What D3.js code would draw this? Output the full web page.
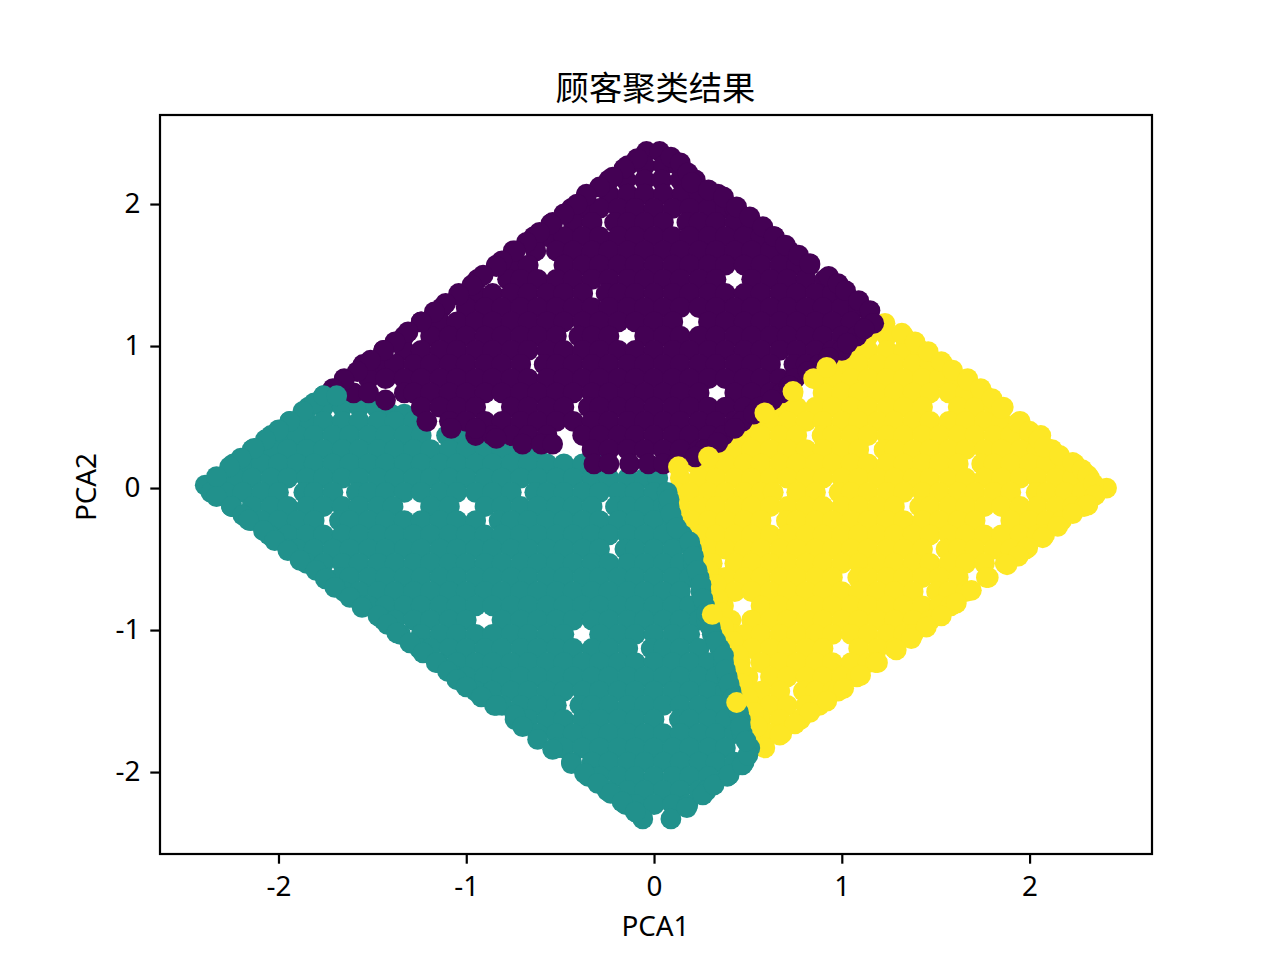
<!DOCTYPE html>
<html><head><meta charset="utf-8">
<script src="https://cdn.jsdelivr.net/npm/d3@7/dist/d3.min.js"></script>
<style>html,body{margin:0;padding:0;background:#fff}svg{display:block}text{font-family:"Noto Sans","Noto Sans CJK SC",sans-serif;fill:#000}</style>
</head><body><svg id="c" width="1280" height="960"></svg>
<script>
const titleText="顾客聚类结果", xLabel="PCA1", yLabel="PCA2";
const xTicks=[-2,-1,0,1,2], yTicks=[-2,-1,0,1,2];
// each row: first the PCA2 value, then PCA1 values of the points read at that height
const yellowRows=[
[1.16,1.23],
[1.07,1.14,1.24,1.33],
[0.97,1.05,1.14,1.24,1.33,1.42],
[0.87,0.94,1.00,1.09,1.19,1.28,1.38,1.47,1.54],
[0.77,0.86,0.95,1.05,1.14,1.24,1.33,1.43,1.52,1.60,1.67],
[0.67,0.74,0.90,1.00,1.09,1.19,1.28,1.38,1.47,1.57,1.66,1.75],
[0.57,0.62,0.67,0.76,0.86,0.95,1.05,1.14,1.24,1.33,1.43,1.62,1.71,1.81,1.86],
[0.47,0.52,0.62,0.71,0.81,0.90,1.00,1.09,1.19,1.28,1.38,1.47,1.57,1.66,1.76,1.85,1.95],
[0.37,0.43,0.48,0.57,0.67,0.76,0.895,0.95,1.05,1.14,1.24,1.33,1.43,1.52,1.62,1.71,1.81,1.90,2.00,2.06],
[0.27,0.33,0.43,0.52,0.62,0.71,0.81,0.90,1.00,1.09,1.225,1.28,1.38,1.47,1.57,1.66,1.76,1.85,1.95,2.04,2.12],
[0.17,0.22,0.29,0.38,0.48,0.57,0.67,0.76,0.86,0.95,1.05,1.14,1.24,1.33,1.43,1.52,1.62,1.745,1.81,1.90,2.00,2.09,2.19,2.24],
[0.07,0.14,0.24,0.33,0.43,0.52,0.62,0.71,0.81,0.90,1.00,1.09,1.19,1.28,1.38,1.47,1.57,1.66,1.76,1.85,1.95,2.04,2.14,2.23,2.32],
[-0.03,0.12,0.19,0.29,0.38,0.48,0.57,0.635,0.76,0.86,0.985,1.05,1.14,1.24,1.33,1.43,1.52,1.62,1.71,1.81,1.90,2.035,2.09,2.19,2.28],
[0.00,2.41],
[-0.13,0.14,0.24,0.33,0.43,0.52,0.62,0.71,0.81,0.90,1.00,1.09,1.19,1.28,1.415,1.47,1.57,1.66,1.76,1.85,1.95,2.04,2.14,2.23,2.29],
[-0.23,0.20,0.29,0.38,0.48,0.57,0.705,0.76,0.86,0.95,1.05,1.14,1.24,1.33,1.43,1.52,1.62,1.71,1.90,2.00,2.09,2.17],
[-0.33,0.24,0.33,0.43,0.52,0.62,0.71,0.81,0.90,1.00,1.09,1.19,1.28,1.38,1.47,1.57,1.66,1.76,1.85,1.95,2.04,2.08],
[-0.43,0.29,0.38,0.48,0.57,0.67,0.76,0.86,0.95,1.05,1.14,1.24,1.33,1.43,1.555,1.62,1.71,1.81,1.90,1.98],
[-0.53,0.31,0.43,0.52,0.62,0.71,0.81,0.90,1.00,1.09,1.19,1.28,1.38,1.47,1.57,1.66,1.76,1.87],
[-0.63,0.32,0.38,0.48,0.57,0.67,0.76,0.86,0.95,1.085,1.14,1.24,1.33,1.43,1.52,1.62,1.78],
[-0.73,0.35,0.43,0.52,0.62,0.71,0.81,0.90,1.00,1.09,1.19,1.28,1.38,1.505,1.57,1.66],
[-0.83,0.37,0.57,0.67,0.76,0.86,0.95,1.05,1.14,1.24,1.33,1.43,1.52,1.58],
[-0.93,0.41,0.52,0.62,0.71,0.81,0.90,1.00,1.09,1.19,1.28,1.38,1.47],
[-1.03,0.42,0.48,0.57,0.67,0.76,0.86,0.95,1.05,1.14,1.24,1.33,1.38],
[-1.13,0.45,0.52,0.62,0.71,0.81,0.90,1.09,1.19,1.28],
[-1.23,0.46,0.57,0.67,0.76,0.86,0.95,1.05,1.14,1.18],
[-1.33,0.50,0.62,0.71,0.81,0.90,1.00,1.08],
[-1.43,0.50,0.57,0.67,0.795,0.86,0.95,0.98],
[-1.53,0.52,0.62,0.71,0.81,0.88],
[-1.63,0.52,0.57,0.67,0.78],
[-1.73,0.54,0.62,0.68],
[-1.83,0.59]
];
const yellowEdgeRows=[
[1.09,1.32],[1.03,1.39],[0.96,1.46],[0.89,1.53],[0.83,1.59],[0.76,1.67],[0.70,1.74],[0.63,1.80],[0.56,1.85],[0.46,1.94],[0.40,2.00],[0.34,2.05],[0.29,2.08],[0.23,2.16],[0.18,2.23],[0.13,2.28],[0.09,2.31],[0.03,2.34],
[-0.05,2.35],[-0.12,2.31],[-0.18,2.23],[-0.27,2.15],[-0.35,2.07],[-0.42,1.99],[-0.48,1.94],[-0.54,1.88],[-0.63,1.77],[-0.72,1.69],[-0.81,1.61],[-0.90,1.53],[-0.98,1.45],[-1.06,1.37],[-1.14,1.29],[-1.23,1.19],[-1.32,1.10],[-1.41,1.01],[-1.50,0.92],[-1.58,0.83],[-1.66,0.75],[-1.74,0.67],
[-0.58,0.29],[-0.68,0.33],[-0.78,0.34],[-0.88,0.36],[-0.98,0.37],[-1.08,0.42],[-1.18,0.45],[-1.28,0.46],[-1.38,0.47],[-1.48,0.50],[-1.58,0.53],[-1.68,0.55]
];
const tealRows=[
[0.65,-1.76,-1.69],
[0.57,-1.84,-1.76,-1.66,-1.57,-1.48],
[0.52,-1.40,-1.33],
[0.47,-1.94,-1.85,-1.76,-1.66,-1.57,-1.47,-1.38,-1.28],
[0.37,-2.04,-1.97,-1.90,-1.81,-1.71,-1.62,-1.52,-1.43,-1.33,-1.24,-1.105,-1.05,-0.93],
[0.27,-2.14,-2.04,-1.95,-1.85,-1.76,-1.66,-1.57,-1.47,-1.38,-1.28,-1.19,-1.09,-1.00,-0.90,-0.81,-0.71,-0.62],
[0.17,-2.24,-2.19,-2.09,-2.00,-1.90,-1.81,-1.71,-1.62,-1.52,-1.43,-1.33,-1.24,-1.14,-1.05,-0.95,-0.86,-0.76,-0.67,-0.57,-0.48,-0.38,-0.29],
[0.07,-2.32,-2.23,-2.14,-2.04,-1.95,-1.85,-1.76,-1.66,-1.57,-1.47,-1.38,-1.28,-1.19,-1.09,-1.00,-0.90,-0.81,-0.71,-0.62,-0.52,-0.43,-0.33,-0.24,-0.14,-0.05,0.02],
[0.02,-2.39],
[-0.03,-2.36,-2.28,-2.19,-2.09,-2.00,-1.865,-1.81,-1.71,-1.585,-1.52,-1.43,-1.33,-1.24,-1.14,-1.05,-0.95,-0.86,-0.76,-0.635,-0.57,-0.48,-0.38,-0.29,-0.19,-0.10,0.00,0.07],
[-0.13,-2.25,-2.14,-2.04,-1.95,-1.85,-1.76,-1.66,-1.57,-1.47,-1.39,-1.19,-1.09,-0.90,-0.81,-0.71,-0.62,-0.52,-0.43,-0.33,-0.205,-0.14,-0.05,0.05,0.08],
[-0.23,-2.15,-2.09,-2.00,-1.90,-1.81,-1.675,-1.62,-1.52,-1.43,-1.33,-1.24,-1.14,-1.05,-0.95,-0.825,-0.76,-0.67,-0.57,-0.48,-0.38,-0.29,-0.19,-0.10,0.00,0.10],
[-0.33,-2.05,-1.95,-1.85,-1.76,-1.66,-1.57,-1.47,-1.38,-1.28,-1.19,-1.09,-1.00,-0.90,-0.81,-0.71,-0.62,-0.52,-0.43,-0.33,-0.24,-0.14,-0.05,0.05,0.15],
[-0.43,-1.95,-1.90,-1.81,-1.71,-1.62,-1.52,-1.43,-1.33,-1.24,-1.14,-1.05,-0.95,-0.86,-0.76,-0.67,-0.57,-0.48,-0.38,-0.29,-0.155,-0.10,0.00,0.10,0.20],
[-0.53,-1.85,-1.76,-1.66,-1.57,-1.47,-1.38,-1.28,-1.19,-1.09,-1.00,-0.90,-0.81,-0.71,-0.62,-0.52,-0.43,-0.33,-0.24,-0.14,-0.05,0.05,0.14,0.21],
[-0.63,-1.75,-1.67,-1.62,-1.52,-1.43,-1.33,-1.24,-1.14,-1.05,-0.95,-0.86,-0.76,-0.67,-0.57,-0.48,-0.38,-0.29,-0.19,-0.10,0.00,0.10,0.19,0.24],
[-0.73,-1.65,-1.57,-1.47,-1.38,-1.28,-1.19,-1.09,-1.00,-0.90,-0.81,-0.71,-0.62,-0.52,-0.43,-0.33,-0.24,-0.14,-0.05,0.05,0.14,0.25],
[-0.83,-1.55,-1.52,-1.43,-1.33,-1.24,-1.14,-1.05,-0.95,-0.86,-0.76,-0.67,-0.57,-0.48,-0.38,-0.29,-0.19,-0.10,0.00,0.10,0.19,0.27],
[-0.93,-1.44,-1.38,-1.28,-1.19,-1.09,-1.00,-0.81,-0.71,-0.62,-0.52,-0.43,-0.33,-0.24,-0.14,-0.05,0.05,0.14,0.24,0.28],
[-1.03,-1.35,-1.24,-1.14,-1.05,-0.95,-0.86,-0.76,-0.67,-0.57,-0.48,-0.29,-0.19,-0.10,0.00,0.10,0.19,0.31],
[-1.13,-1.25,-1.19,-1.09,-1.00,-0.90,-0.81,-0.71,-0.62,-0.52,-0.43,-0.33,-0.24,-0.14,-0.015,0.05,0.14,0.24,0.35],
[-1.23,-1.15,-1.05,-0.95,-0.86,-0.76,-0.67,-0.57,-0.48,-0.38,-0.29,-0.19,-0.10,0.00,0.10,0.19,0.29,0.37],
[-1.33,-1.05,-1.00,-0.90,-0.81,-0.71,-0.62,-0.52,-0.43,-0.33,-0.24,-0.14,-0.05,0.05,0.14,0.24,0.33,0.39],
[-1.43,-0.95,-0.86,-0.76,-0.67,-0.57,-0.48,-0.38,-0.29,-0.19,-0.10,0.00,0.10,0.19,0.29,0.38,0.41],
[-1.53,-0.85,-0.81,-0.71,-0.62,-0.52,-0.395,-0.33,-0.24,-0.14,-0.05,0.05,0.14,0.24,0.33,0.43],
[-1.63,-0.74,-0.67,-0.57,-0.48,-0.38,-0.29,-0.19,-0.10,0.00,0.135,0.19,0.29,0.38,0.46],
[-1.73,-0.62,-0.52,-0.43,-0.33,-0.24,-0.14,-0.05,0.05,0.14,0.24,0.33,0.43,0.47],
[-1.83,-0.52,-0.48,-0.38,-0.29,-0.19,-0.10,0.00,0.10,0.19,0.29,0.38,0.51],
[-1.93,-0.44,-0.33,-0.24,-0.14,-0.05,0.05,0.14,0.24,0.33,0.43,0.48],
[-2.03,-0.35,-0.29,-0.19,-0.10,0.00,0.10,0.19,0.29,0.39],
[-2.13,-0.25,-0.14,-0.05,0.05,0.14,0.24,0.28],
[-2.23,-0.15,-0.10,0.00,0.10,0.18],
[-2.33,-0.06,0.09]
];
const tealEdgeRows=[
[0.60,-1.81],[0.54,-1.87],[0.47,-1.94],[0.41,-2.00],[0.34,-2.07],[0.28,-2.13],[0.21,-2.20],[0.15,-2.26],[0.08,-2.33],
[-0.06,-2.33],[-0.13,-2.25],[-0.19,-2.19],[-0.225,-2.16],[-0.30,-2.08],[-0.37,-2.02],[-0.44,-1.95],[-0.51,-1.885],[-0.58,-1.80],[-0.64,-1.75],[-0.70,-1.70],[-0.77,-1.62],[-0.84,-1.555],[-0.90,-1.47],[-0.96,-1.42],[-1.02,-1.37],[-1.09,-1.30],[-1.16,-1.23],[-1.23,-1.16],[-1.29,-1.10],[-1.35,-1.05],[-1.40,-1.00],[-1.47,-0.92],[-1.53,-0.84],[-1.60,-0.74],[-1.68,-0.70],[-1.77,-0.62],[-1.84,-0.54],[-1.94,-0.44],[-2.01,-0.37],[-2.08,-0.30],[-2.15,-0.23],[-2.21,-0.17],[-2.28,-0.10],
[-2.25,0.175],[-2.16,0.26],[-2.09,0.32],[-2.02,0.40],[-1.95,0.47],[-1.88,0.50],
[-0.08,0.08],[-0.18,0.09],[-0.28,0.12],[-0.38,0.19],[-0.48,0.21],[-0.58,0.23],[-0.68,0.25],[-0.78,0.26],[-0.88,0.28],[-0.98,0.30],[-1.08,0.33],[-1.18,0.37],[-1.28,0.38],[-1.38,0.40],[-1.48,0.42],[-1.58,0.45],[-1.68,0.46],[-1.78,0.49]
];
const purpleRows=[
[2.37,-0.04,0.03],
[2.27,-0.14,-0.05,0.05,0.13],
[2.17,-0.24,-0.15,-0.05,0.04,0.14,0.22],
[2.07,-0.36,-0.24,-0.14,-0.05,0.05,0.15,0.24,0.34],
[1.97,-0.44,-0.38,-0.29,-0.19,-0.10,0.00,0.10,0.19,0.29,0.38,0.43],
[1.87,-0.54,-0.43,-0.33,-0.21,-0.14,-0.05,0.05,0.175,0.24,0.33,0.43,0.52],
[1.77,-0.64,-0.57,-0.48,-0.38,-0.29,-0.19,-0.10,0.00,0.10,0.19,0.29,0.38,0.48,0.57,0.64],
[1.67,-0.75,-0.63,-0.52,-0.43,-0.33,-0.24,-0.14,-0.05,0.05,0.14,0.24,0.33,0.43,0.52,0.62,0.72],
[1.57,-0.84,-0.76,-0.67,-0.48,-0.38,-0.29,-0.19,-0.10,0.00,0.10,0.19,0.29,0.38,0.48,0.57,0.67,0.76,0.83],
[1.47,-0.94,-0.78,-0.71,-0.62,-0.52,-0.43,-0.33,-0.24,-0.14,-0.05,0.05,0.14,0.24,0.33,0.52,0.62,0.71,0.81,0.91],
[1.37,-1.04,-0.95,-0.86,-0.76,-0.67,-0.57,-0.48,-0.38,-0.255,-0.19,-0.10,0.00,0.10,0.19,0.29,0.38,0.48,0.57,0.67,0.76,0.86,0.95,1.02],
[1.27,-1.13,-1.00,-0.90,-0.81,-0.71,-0.62,-0.52,-0.43,-0.33,-0.24,-0.14,-0.05,0.05,0.14,0.24,0.33,0.43,0.52,0.62,0.71,0.81,0.90,1.00,1.09],
[1.17,-1.24,-1.14,-1.05,-0.95,-0.86,-0.76,-0.67,-0.57,-0.48,-0.38,-0.29,-0.19,-0.10,0.00,0.10,0.29,0.38,0.48,0.57,0.67,0.76,0.86,0.95,1.05,1.15],
[1.07,-1.33,-1.19,-1.09,-1.00,-0.90,-0.81,-0.71,-0.62,-0.52,-0.40,-0.33,-0.24,-0.05,0.05,0.14,0.24,0.33,0.43,0.52,0.62,0.71,0.81,0.90,1.00,1.08],
[0.97,-1.44,-1.33,-1.24,-1.14,-1.05,-0.95,-0.86,-0.76,-0.67,-0.57,-0.48,-0.38,-0.29,-0.19,-0.10,0.00,0.10,0.19,0.29,0.38,0.48,0.57,0.67,0.76,0.86,0.95,1.00],
[0.87,-1.55,-1.47,-1.38,-1.28,-1.19,-1.09,-1.00,-0.90,-0.81,-0.71,-0.585,-0.52,-0.43,-0.33,-0.24,-0.14,-0.05,0.05,0.14,0.24,0.33,0.43,0.52,0.62,0.745,0.81,0.88],
[0.77,-1.65,-1.52,-1.43,-1.33,-1.24,-1.14,-1.05,-0.95,-0.86,-0.76,-0.67,-0.57,-0.48,-0.38,-0.29,-0.19,-0.10,0.00,0.10,0.19,0.29,0.38,0.48,0.57,0.67,0.75],
[0.67,-1.70,-1.60,-1.52,-1.33,-1.28,-1.19,-1.09,-1.00,-0.90,-0.81,-0.71,-0.62,-0.52,-0.43,-0.33,-0.24,-0.14,-0.05,0.05,0.14,0.24,0.43,0.52,0.62,0.68],
[0.62,-1.43],
[0.57,-1.24,-1.14,-1.05,-0.95,-0.76,-0.67,-0.57,-0.48,-0.35,-0.29,-0.19,-0.10,0.00,0.10,0.19,0.29,0.38,0.48,0.56],
[0.47,-1.21,-1.09,-1.00,-0.90,-0.81,-0.71,-0.62,-0.52,-0.43,-0.33,-0.24,-0.14,-0.05,0.05,0.14,0.24,0.33,0.43,0.47],
[0.37,-0.95,-0.86,-0.76,-0.67,-0.57,-0.38,-0.29,-0.19,-0.10,0.00,0.10,0.19,0.29,0.37],
[0.31,-0.70,-0.60,-0.54],
[0.27,-0.33,-0.24,-0.14,-0.05,0.05,0.14,0.24,0.27],
[0.17,-0.32,-0.24,-0.13,-0.03,0.05,0.12]
];
const purpleEdgeRows=[
[2.32,-0.09],[2.25,-0.16],[2.19,-0.22],[2.12,-0.29],[2.06,-0.36],[2.00,-0.41],[1.93,-0.48],[1.86,-0.55],[1.80,-0.61],[1.73,-0.68],[1.67,-0.74],[1.60,-0.81],[1.56,-0.84],[1.50,-0.91],[1.43,-0.97],[1.36,-1.04],[1.30,-1.11],[1.24,-1.17],[1.17,-1.24],[1.10,-1.31],[1.03,-1.38],[0.97,-1.44],[0.90,-1.51],[0.82,-1.58],[0.76,-1.65],[0.70,-1.71],
[2.33,0.09],[2.29,0.14],[2.22,0.18],[2.15,0.20],[2.10,0.29],[2.05,0.37],[1.98,0.44],[1.91,0.51],[1.84,0.58],[1.77,0.64],[1.71,0.70],[1.64,0.77],[1.58,0.83],[1.49,0.93],[1.44,0.98],[1.39,1.02],[1.32,1.09],[1.25,1.15],[1.16,1.17],
[1.12,1.12],[1.02,1.03],[0.92,0.93],[0.82,0.82],[0.72,0.72],[0.62,0.63],[0.52,0.53],[0.42,0.43],[0.32,0.34],[0.22,0.22],
[0.42,-1.08,-0.95],[0.35,-0.84]
];
const topYellowRows=[[0.77,0.85],[0.85,0.92],[0.68,0.74],[0.53,0.59],[0.22,0.29],[0.15,0.13],[-0.89,0.31],[-1.51,0.44]];
const topTealRows=[[0.65,-1.76,-1.69]];
const layers=[[yellowRows,"#fde725"],[yellowEdgeRows,"#fde725"],[tealRows,"#21918c"],[tealEdgeRows,"#21918c"],[purpleRows,"#440154"],[purpleEdgeRows,"#440154"],[topYellowRows,"#fde725"],[topTealRows,"#21918c"]];

const m={l:160,r:1152,t:115,b:854};
const svg=d3.select("#c");
const x=d3.scaleLinear().domain([-2.631,2.652]).range([m.l,m.r]);
const y=d3.scaleLinear().domain([-2.577,2.627]).range([m.b,m.t]);
const marks=svg.append("g");
layers.forEach(([rows,col])=>{
  const pts=rows.flatMap(r=>r.slice(1).map(v=>[v,r[0]]));
  marks.append("g").selectAll("circle").data(pts).join("circle")
    .attr("cx",d=>x(d[0])).attr("cy",d=>y(d[1])).attr("r",10.4).attr("fill",col);
});
const sw=2.2, fs=27.8, ff='"Noto Sans","Noto Sans CJK SC",sans-serif';
const xa=svg.append("g").attr("transform",`translate(0,${m.b})`).call(d3.axisBottom(x).tickValues(xTicks).tickFormat(d=>String(d)).tickSize(9.7).tickPadding(13));
const ya=svg.append("g").attr("transform",`translate(${m.l},0)`).call(d3.axisLeft(y).tickValues(yTicks).tickFormat(d=>String(d)).tickSize(9.7).tickPadding(10));
[xa,ya].forEach(a=>{a.select(".domain").remove();a.selectAll("line").attr("stroke","#000").attr("stroke-width",sw);a.selectAll("text").attr("font-size",fs).attr("fill","#000").style("font-family",ff);});
svg.append("rect").attr("x",m.l).attr("y",m.t).attr("width",m.r-m.l).attr("height",m.b-m.t).attr("fill","none").attr("stroke","#000").attr("stroke-width",sw);
svg.append("text").attr("x",655.5).attr("y",100).attr("text-anchor","middle").attr("font-size",33.3).style("font-family",'"Noto Sans CJK SC",sans-serif').text(titleText);
svg.append("text").attr("x",655.5).attr("y",936).attr("text-anchor","middle").attr("font-size",fs).text(xLabel);
svg.append("text").attr("transform","translate(96,487) rotate(-90)").attr("text-anchor","middle").attr("font-size",fs).text(yLabel);
</script></body></html>
